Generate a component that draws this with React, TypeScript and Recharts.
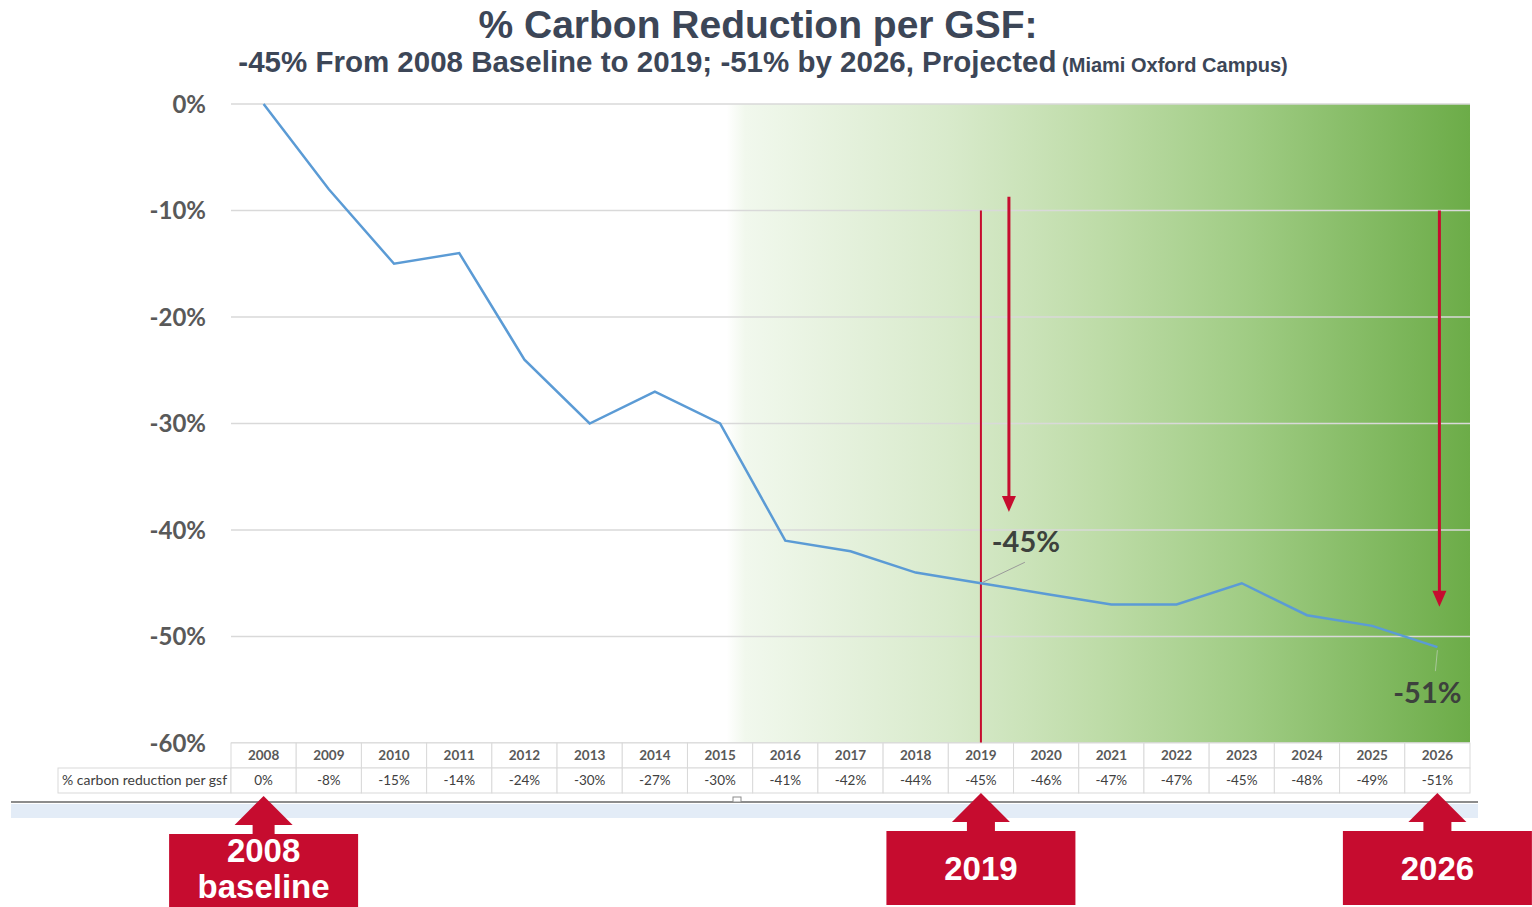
import React from "react";
import { CartesianGrid, Line, LineChart, ReferenceLine, XAxis, YAxis } from "recharts";

// yearly % carbon reduction per GSF vs. the 2008 baseline (2020+ projected)
const years = [
  "2008", "2009", "2010", "2011", "2012", "2013", "2014", "2015", "2016", "2017",
  "2018", "2019", "2020", "2021", "2022", "2023", "2024", "2025", "2026",
];
const reduction = [0, -8, -15, -14, -24, -30, -27, -30, -41, -42, -44, -45, -46, -47, -47, -45, -48, -49, -51];
const yTicks = [0, -10, -20, -30, -40, -50, -60];
const calloutYears = ["2019", "2026"];
const milestoneYears = ["2008", "2019", "2026"];
const milestoneText = [["2008", "baseline"], ["2019"], ["2026"]];

const data = years.map((year, i) => ({ year, value: reduction[i] }));

const W = 1532;
const H = 907;
const PLOT_LEFT = 231;
const PLOT_RIGHT = 1470;
const PLOT_TOP = 104;
const PLOT_BOTTOM = 743;
const STEP = (PLOT_RIGHT - PLOT_LEFT) / years.length;
const ROW = 25;

const RED = "#c60c2f";
const GRID = "#d9d9d9";
const GREY = "#595959";
const NAVY = "#3c4657";
const TABLE_FONT = "Lato, 'Open Sans', sans-serif";
const HEAD_FONT = "'Liberation Sans', Arial, sans-serif";

function Milestone({ x, y, lines }: { x: number; y: number; lines: string[] }) {
  const twoLines = lines.length > 1;
  const shift = twoLines ? 3 : 0;
  const tip = y + 50 + shift;
  const base = tip + 29;
  const top = y + 88 + shift;
  const shaft = twoLines ? 11 : 14;
  return (
    <g>
      <polygon points={`${x},${tip} ${x - 29},${base} ${x + 29},${base}`} fill={RED} />
      <rect x={x - shaft} y={base - 1} width={shaft * 2} height={top - base + 2} fill={RED} />
      <rect x={x - 94.5} y={top} width={189} height={twoLines ? 80 : 74} fill={RED} />
      {lines.map((t, k) => (
        <text
          key={t}
          x={x}
          y={twoLines ? top + 28 + k * 36 : top + 49}
          textAnchor="middle"
          fill="#fff"
          fontSize={33}
          fontWeight={700}
          fontFamily={HEAD_FONT}
        >
          {t}
        </text>
      ))}
    </g>
  );
}

// x axis ticks double as the data table under the plot
function TableTick(props: any) {
  const { x, y, payload } = props;
  const i = years.indexOf(String(payload.value));
  const left = x - STEP / 2;
  const m = milestoneYears.indexOf(years[i]);
  const cellText = { fontSize: 13.5, fontFamily: TABLE_FONT, textAnchor: "middle" as const };
  return (
    <g>
      {i === 0 && (
        <g>
          <rect x={58} y={y + ROW} width={left - 58} height={ROW} fill="#fff" stroke={GRID} />
          <text x={62} y={y + ROW + 17} fontSize={14} fill="#404040" fontFamily={TABLE_FONT}>
            % carbon reduction per gsf
          </text>
        </g>
      )}
      <rect x={left} y={y} width={STEP} height={ROW} fill="#fff" stroke={GRID} />
      <rect x={left} y={y + ROW} width={STEP} height={ROW} fill="#fff" stroke={GRID} />
      <text x={x} y={y + 17} fontWeight={700} fill={GREY} {...cellText}>
        {years[i]}
      </text>
      <text x={x} y={y + ROW + 17} fill="#404040" {...cellText}>
        {`${reduction[i]}%`}
      </text>
      {m >= 0 && <Milestone x={x} y={y} lines={milestoneText[m]} />}
    </g>
  );
}

function renderCallout(props: any) {
  const { x, y, value, index } = props;
  const year = years[index];
  if (!calloutYears.includes(year)) return <g key={`c-${index}`} />;
  const above = year === "2019";
  const tx = above ? x + 45 : x - 10;
  const ty = above ? y - 31 : y + 56;
  return (
    <g key={`c-${index}`}>
      {above ? (
        <line x1={x + 2} y1={y - 1} x2={x + 44} y2={y - 21} stroke="#9a9a9a" strokeWidth={1} />
      ) : (
        <line x1={x} y1={y + 3} x2={x - 2} y2={y + 24} stroke="#a9c79a" strokeWidth={1} />
      )}
      <text x={tx} y={ty} textAnchor="middle" fontSize={29} fontWeight={700} fill="#3d413d" fontFamily={TABLE_FONT}>
        {`${value}%`}
      </text>
    </g>
  );
}

function DownArrow(props: any) {
  const { x1, y1, x2, y2, dx = 0, width = 3 } = props;
  const ax = x1 + dx;
  const bx = x2 + dx;
  return (
    <g>
      <line x1={ax} y1={y1} x2={bx} y2={y2 - 14} stroke={RED} strokeWidth={width} />
      <polygon points={`${bx - 7},${y2 - 16} ${bx + 7},${y2 - 16} ${bx},${y2}`} fill={RED} />
    </g>
  );
}

function App() {
  return (
    <div style={{ position: "absolute", left: 0, top: 0, width: W, height: H, background: "#fff" }}>
      <svg width={W} height={H} style={{ position: "absolute", left: 0, top: 0 }}>
        <defs>
          <linearGradient id="plotGreen" x1="0" y1="0" x2="1" y2="0">
            <stop offset="0" stopColor="#ffffff" />
            <stop offset="0.40" stopColor="#ffffff" />
            <stop offset="0.415" stopColor="#f1f8ed" />
            <stop offset="0.58" stopColor="#d8eacb" />
            <stop offset="0.70" stopColor="#bedca8" />
            <stop offset="0.82" stopColor="#a0cc84" />
            <stop offset="1" stopColor="#6cac48" />
          </linearGradient>
        </defs>
        <text x={758} y={38} textAnchor="middle" fontSize={39} fontWeight={700} fill={NAVY} fontFamily={HEAD_FONT}>
          % Carbon Reduction per GSF:
        </text>
        <text x={763} y={72} textAnchor="middle" fontWeight={700} fill={NAVY} fontFamily={HEAD_FONT}>
          <tspan fontSize={29.5}>-45% From 2008 Baseline to 2019; -51% by 2026, Projected</tspan>
          <tspan fontSize={20}> (Miami Oxford Campus)</tspan>
        </text>
        <rect x={11} y={804} width={1467} height={14} fill="#e3ecf7" />
        <line x1={11} y1={802} x2={1478} y2={802} stroke="#8c8c8c" strokeWidth={2} />
        <rect x={733} y={797} width={8} height={5} fill="#fff" stroke="#8c8c8c" strokeWidth={1} />
      </svg>
      <div style={{ position: "absolute", left: 0, top: 0 }}>
        <LineChart width={W} height={H} data={data} margin={{ top: PLOT_TOP, right: W - PLOT_RIGHT, bottom: 0, left: 0 }}>
          <CartesianGrid vertical={false} stroke={GRID} strokeWidth={1.5} fill="url(#plotGreen)" fillOpacity={1} />
          <XAxis
            dataKey="year"
            scale="point"
            height={H - PLOT_BOTTOM}
            interval={0}
            axisLine={false}
            tickLine={false}
            tickSize={0}
            tickMargin={0}
            padding={{ left: STEP / 2, right: STEP / 2 }}
            tick={<TableTick />}
          />
          <YAxis
            type="number"
            domain={[-60, 0]}
            ticks={yTicks}
            width={PLOT_LEFT}
            axisLine={false}
            tickLine={false}
            tickSize={0}
            tickMargin={25}
            tickFormatter={(v: number) => `${v}%`}
            tick={{ fill: GREY, fontSize: 24, fontWeight: 700, fontFamily: TABLE_FONT }}
          />
          <ReferenceLine
            segment={[{ x: "2019", y: -10 }, { x: "2019", y: -60 }]}
            stroke={RED}
            strokeWidth={2}
          />
          <Line
            type="linear"
            dataKey="value"
            stroke="#5b9bd5"
            strokeWidth={2.5}
            dot={false}
            isAnimationActive={false}
            label={renderCallout}
          />
          <ReferenceLine
            segment={[{ x: "2019", y: -8.7 }, { x: "2019", y: -38.3 }]}
            shape={(p: any) => <DownArrow {...p} dx={28} />}
          />
          <ReferenceLine
            segment={[{ x: "2026", y: -10 }, { x: "2026", y: -47.2 }]}
            shape={(p: any) => <DownArrow {...p} dx={2} />}
          />
        </LineChart>
      </div>
    </div>
  );
}

export default App;
